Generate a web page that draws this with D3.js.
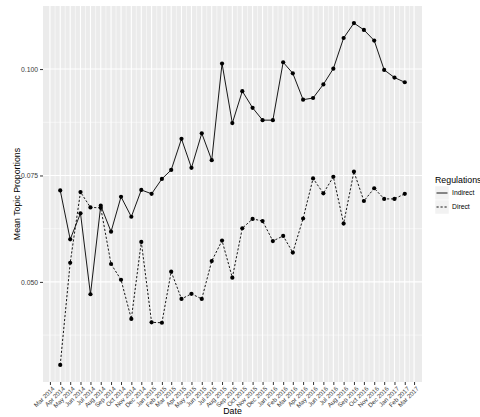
<!DOCTYPE html>
<html><head><meta charset="utf-8">
<script src="https://cdn.jsdelivr.net/npm/d3@7"></script>
<style>body{margin:0;background:#fff}svg{display:block}text{font-family:"Liberation Sans",Arial,sans-serif}</style>
</head><body><svg id="c" width="480" height="417"></svg>
<script>
const months = ["2014-04","2014-05","2014-06","2014-07","2014-08","2014-09","2014-10","2014-11","2014-12",
"2015-01","2015-02","2015-03","2015-04","2015-05","2015-06","2015-07","2015-08","2015-09","2015-10","2015-11","2015-12",
"2016-01","2016-02","2016-03","2016-04","2016-05","2016-06","2016-07","2016-08","2016-09","2016-10","2016-11","2016-12",
"2017-01","2017-02"];
const indirect = [0.0715,0.0600,0.0661,0.0471,0.0679,0.0618,0.0700,0.0653,0.0716,
0.0707,0.0742,0.0763,0.0836,0.0768,0.0849,0.0786,0.1013,0.0873,0.0948,0.0909,0.0880,
0.0880,0.1016,0.0990,0.0928,0.0932,0.0964,0.1001,0.1073,0.1108,0.1092,0.1067,0.0998,
0.0980,0.0969];
const direct = [0.0305,0.0545,0.0711,0.0675,0.0674,0.0542,0.0505,0.0413,0.0594,
0.0405,0.0404,0.0524,0.0460,0.0472,0.0460,0.0549,0.0597,0.0510,0.0626,0.0648,0.0643,
0.0596,0.0608,0.0569,0.0649,0.0743,0.0708,0.0747,0.0637,0.0759,0.0690,0.0720,0.0695,
0.0695,0.0707];
const seriesNames = ["Indirect","Direct"];
const yTicks = [0.050,0.075,0.100];
const yMinor = [0.0375,0.0625,0.0875];
const xTickStart = "2014-03", xTickEnd = "2017-03";

const parse = d3.utcParse("%Y-%m");
const dates = months.map(parse);
const svg = d3.select("#c");
const L=43,R=422,T=6,B=382;

const dExt = d3.extent(dates), dSpan = dExt[1]-dExt[0];
const x = d3.scaleUtc().domain([new Date(+dExt[0]-dSpan*0.05), new Date(+dExt[1]+dSpan*0.05)]).range([L,R]);
const allV = indirect.concat(direct);
const vMin = d3.min(allV), vMax = d3.max(allV), vSpan=vMax-vMin;
const y = d3.scaleLinear().domain([vMin-vSpan*0.05, vMax+vSpan*0.05]).range([B,T]);

svg.append("rect").attr("x",L).attr("y",T).attr("width",R-L).attr("height",B-T).attr("fill","#EBEBEB");

const xMajor = d3.utcMonth.range(parse(xTickStart), d3.utcMonth.offset(parse(xTickEnd),1));
const xMinor = [];
for(let i=0;i<xMajor.length-1;i++) xMinor.push(new Date((+xMajor[i]+ +xMajor[i+1])/2));
const g = svg.append("g");
g.selectAll(".hm").data(yMinor).join("line").attr("x1",L).attr("x2",R).attr("y1",d=>y(d)).attr("y2",d=>y(d)).attr("stroke","#fff").attr("stroke-width",0.55);
g.selectAll(".vm").data(xMinor).join("line").attr("y1",T).attr("y2",B).attr("x1",d=>x(d)).attr("x2",d=>x(d)).attr("stroke","#fff").attr("stroke-width",0.55);
g.selectAll(".hM").data(yTicks).join("line").attr("x1",L).attr("x2",R).attr("y1",d=>y(d)).attr("y2",d=>y(d)).attr("stroke","#fff").attr("stroke-width",1.1);
g.selectAll(".vM").data(xMajor).join("line").attr("y1",T).attr("y2",B).attr("x1",d=>x(d)).attr("x2",d=>x(d)).attr("stroke","#fff").attr("stroke-width",1.1);

// axes
const yAxis = svg.append("g").attr("transform",`translate(${L},0)`)
  .call(d3.axisLeft(y).tickValues(yTicks).tickFormat(d3.format(".3f")).tickSize(3).tickPadding(2));
yAxis.select(".domain").remove();
yAxis.selectAll("line").attr("stroke","#333");
yAxis.selectAll("text").attr("fill","#3a3a3a").style("font-size","6.8px");

const xAxis = svg.append("g").attr("transform",`translate(0,${B})`)
  .call(d3.axisBottom(x).tickValues(xMajor).tickFormat(d3.utcFormat("%b %Y")).tickSize(3));
xAxis.select(".domain").remove();
xAxis.selectAll("line").attr("stroke","#333");
xAxis.selectAll("text").attr("fill","#3a3a3a").style("font-size","6.2px")
  .attr("text-anchor","end").attr("dy","0.71em").attr("y",0)
  .attr("transform","translate(1.5,4) rotate(-45)");

// lines
const data = [indirect, direct];
const line = d3.line().x((d,i)=>x(dates[i])).y(d=>y(d));
data.forEach((vals,k)=>{
  svg.append("path").attr("d",line(vals)).attr("fill","none").attr("stroke","#000")
    .attr("stroke-width",0.9).attr("stroke-dasharray",k===1?"2.2,1.8":null);
  svg.append("g").selectAll("circle").data(vals).join("circle")
    .attr("cx",(d,i)=>x(dates[i])).attr("cy",d=>y(d)).attr("r",2.1).attr("fill","#000");
});

// titles
svg.append("text").attr("x",(L+R)/2).attr("y",414).attr("text-anchor","middle").style("font-size","8.8px").attr("fill","#000").text("Date");
svg.append("text").attr("transform",`translate(20,${(T+B)/2}) rotate(-90)`).attr("text-anchor","middle").style("font-size","8.8px").attr("fill","#000").text("Mean Topic Proportions");

// legend
const lg = svg.append("g").attr("transform","translate(435,0)");
lg.append("text").attr("x",0).attr("y",183).style("font-size","8.8px").attr("fill","#000").text("Regulations");
seriesNames.forEach((n,k)=>{
  const cy = 193 + k*14;
  lg.append("rect").attr("x",0).attr("y",cy-7).attr("width",14).attr("height",14).attr("fill","#F2F2F2").attr("stroke","#fff").attr("stroke-width",0.5);
  lg.append("line").attr("x1",1.5).attr("x2",12.5).attr("y1",cy).attr("y2",cy).attr("stroke","#000").attr("stroke-width",0.9).attr("stroke-dasharray",k===1?"2.2,1.8":null);
  lg.append("text").attr("x",17).attr("y",cy+2.4).style("font-size","6.8px").attr("fill","#000").text(n);
});
</script></body></html>
